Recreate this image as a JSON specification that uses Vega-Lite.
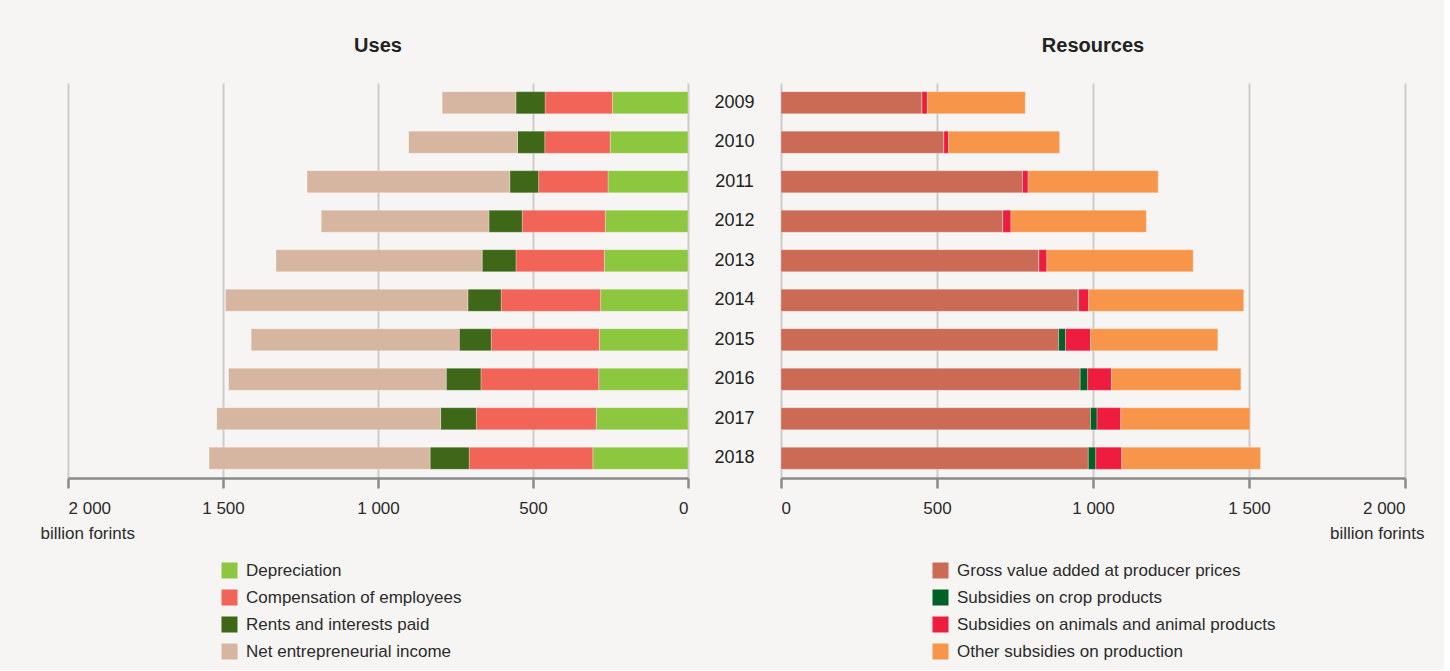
{
  "$schema": "https://vega.github.io/schema/vega-lite/v6.json",
  "background": "#f6f5f3",
  "padding": {"left": 40, "top": 36, "right": 20, "bottom": 10},
  "bounds": "flush",
  "spacing": 93,
  "config": {
    "view": {"stroke": null},
    "font": "Liberation Sans, Arial, sans-serif",
    "axis": {
      "domainColor": "#8a8a8a", "domainWidth": 2.5,
      "tickColor": "#8a8a8a", "tickWidth": 2.5, "tickSize": 10,
      "gridColor": "#cccccc", "gridWidth": 2,
      "labelColor": "#2b2b2b", "labelFontSize": 17, "labelPadding": 12,
      "titleColor": "#2b2b2b", "titleFontSize": 17, "titleFontWeight": "normal"
    },
    "title": {"fontSize": 20, "fontWeight": "bold", "color": "#222222", "offset": 27},
    "legend": {"labelFontSize": 17, "labelColor": "#2b2b2b", "labelLimit": 0, "symbolType": "square", "symbolSize": 256, "symbolStrokeWidth": 0, "rowPadding": 9, "padding": 0, "labelOffset": 8}
  },
  "datasets": {
    "uses": [
      {"year": "2009", "item": "Depreciation", "k": 1, "value": 244},
      {"year": "2009", "item": "Compensation of employees", "k": 2, "value": 217},
      {"year": "2009", "item": "Rents and interests paid", "k": 3, "value": 94},
      {"year": "2009", "item": "Net entrepreneurial income", "k": 4, "value": 238},
      {"year": "2010", "item": "Depreciation", "k": 1, "value": 251},
      {"year": "2010", "item": "Compensation of employees", "k": 2, "value": 211},
      {"year": "2010", "item": "Rents and interests paid", "k": 3, "value": 88},
      {"year": "2010", "item": "Net entrepreneurial income", "k": 4, "value": 351},
      {"year": "2011", "item": "Depreciation", "k": 1, "value": 258},
      {"year": "2011", "item": "Compensation of employees", "k": 2, "value": 224},
      {"year": "2011", "item": "Rents and interests paid", "k": 3, "value": 93},
      {"year": "2011", "item": "Net entrepreneurial income", "k": 4, "value": 654},
      {"year": "2012", "item": "Depreciation", "k": 1, "value": 267},
      {"year": "2012", "item": "Compensation of employees", "k": 2, "value": 268},
      {"year": "2012", "item": "Rents and interests paid", "k": 3, "value": 107},
      {"year": "2012", "item": "Net entrepreneurial income", "k": 4, "value": 541},
      {"year": "2013", "item": "Depreciation", "k": 1, "value": 270},
      {"year": "2013", "item": "Compensation of employees", "k": 2, "value": 285},
      {"year": "2013", "item": "Rents and interests paid", "k": 3, "value": 109},
      {"year": "2013", "item": "Net entrepreneurial income", "k": 4, "value": 665},
      {"year": "2014", "item": "Depreciation", "k": 1, "value": 282},
      {"year": "2014", "item": "Compensation of employees", "k": 2, "value": 321},
      {"year": "2014", "item": "Rents and interests paid", "k": 3, "value": 107},
      {"year": "2014", "item": "Net entrepreneurial income", "k": 4, "value": 782},
      {"year": "2015", "item": "Depreciation", "k": 1, "value": 286},
      {"year": "2015", "item": "Compensation of employees", "k": 2, "value": 349},
      {"year": "2015", "item": "Rents and interests paid", "k": 3, "value": 103},
      {"year": "2015", "item": "Net entrepreneurial income", "k": 4, "value": 671},
      {"year": "2016", "item": "Depreciation", "k": 1, "value": 288},
      {"year": "2016", "item": "Compensation of employees", "k": 2, "value": 380},
      {"year": "2016", "item": "Rents and interests paid", "k": 3, "value": 112},
      {"year": "2016", "item": "Net entrepreneurial income", "k": 4, "value": 702},
      {"year": "2017", "item": "Depreciation", "k": 1, "value": 296},
      {"year": "2017", "item": "Compensation of employees", "k": 2, "value": 387},
      {"year": "2017", "item": "Rents and interests paid", "k": 3, "value": 115},
      {"year": "2017", "item": "Net entrepreneurial income", "k": 4, "value": 722},
      {"year": "2018", "item": "Depreciation", "k": 1, "value": 307},
      {"year": "2018", "item": "Compensation of employees", "k": 2, "value": 399},
      {"year": "2018", "item": "Rents and interests paid", "k": 3, "value": 126},
      {"year": "2018", "item": "Net entrepreneurial income", "k": 4, "value": 713}
    ],
    "res": [
      {"year": "2009", "item": "Gross value added at producer prices", "k": 1, "value": 452},
      {"year": "2009", "item": "Subsidies on crop products", "k": 2, "value": 0},
      {"year": "2009", "item": "Subsidies on animals and animal products", "k": 3, "value": 17},
      {"year": "2009", "item": "Other subsidies on production", "k": 4, "value": 314},
      {"year": "2010", "item": "Gross value added at producer prices", "k": 1, "value": 522},
      {"year": "2010", "item": "Subsidies on crop products", "k": 2, "value": 0},
      {"year": "2010", "item": "Subsidies on animals and animal products", "k": 3, "value": 15},
      {"year": "2010", "item": "Other subsidies on production", "k": 4, "value": 356},
      {"year": "2011", "item": "Gross value added at producer prices", "k": 1, "value": 774},
      {"year": "2011", "item": "Subsidies on crop products", "k": 2, "value": 0},
      {"year": "2011", "item": "Subsidies on animals and animal products", "k": 3, "value": 18},
      {"year": "2011", "item": "Other subsidies on production", "k": 4, "value": 417},
      {"year": "2012", "item": "Gross value added at producer prices", "k": 1, "value": 710},
      {"year": "2012", "item": "Subsidies on crop products", "k": 2, "value": 1},
      {"year": "2012", "item": "Subsidies on animals and animal products", "k": 3, "value": 26},
      {"year": "2012", "item": "Other subsidies on production", "k": 4, "value": 434},
      {"year": "2013", "item": "Gross value added at producer prices", "k": 1, "value": 826},
      {"year": "2013", "item": "Subsidies on crop products", "k": 2, "value": 1},
      {"year": "2013", "item": "Subsidies on animals and animal products", "k": 3, "value": 25},
      {"year": "2013", "item": "Other subsidies on production", "k": 4, "value": 469},
      {"year": "2014", "item": "Gross value added at producer prices", "k": 1, "value": 951},
      {"year": "2014", "item": "Subsidies on crop products", "k": 2, "value": 3},
      {"year": "2014", "item": "Subsidies on animals and animal products", "k": 3, "value": 32},
      {"year": "2014", "item": "Other subsidies on production", "k": 4, "value": 497},
      {"year": "2015", "item": "Gross value added at producer prices", "k": 1, "value": 890},
      {"year": "2015", "item": "Subsidies on crop products", "k": 2, "value": 22},
      {"year": "2015", "item": "Subsidies on animals and animal products", "k": 3, "value": 80},
      {"year": "2015", "item": "Other subsidies on production", "k": 4, "value": 408},
      {"year": "2016", "item": "Gross value added at producer prices", "k": 1, "value": 959},
      {"year": "2016", "item": "Subsidies on crop products", "k": 2, "value": 24},
      {"year": "2016", "item": "Subsidies on animals and animal products", "k": 3, "value": 76},
      {"year": "2016", "item": "Other subsidies on production", "k": 4, "value": 415},
      {"year": "2017", "item": "Gross value added at producer prices", "k": 1, "value": 992},
      {"year": "2017", "item": "Subsidies on crop products", "k": 2, "value": 21},
      {"year": "2017", "item": "Subsidies on animals and animal products", "k": 3, "value": 76},
      {"year": "2017", "item": "Other subsidies on production", "k": 4, "value": 414},
      {"year": "2018", "item": "Gross value added at producer prices", "k": 1, "value": 985},
      {"year": "2018", "item": "Subsidies on crop products", "k": 2, "value": 24},
      {"year": "2018", "item": "Subsidies on animals and animal products", "k": 3, "value": 83},
      {"year": "2018", "item": "Other subsidies on production", "k": 4, "value": 445}
    ]
  },
  "resolve": {"scale": {"color": "independent", "y": "independent", "x": "independent"}, "legend": {"color": "independent"}},
  "hconcat": [
    {
      "title": "Uses",
      "width": 620,
      "height": 395,
      "data": {"name": "uses"},
      "mark": {"type": "bar", "stroke": "#ffffff", "strokeWidth": 0.8, "strokeOpacity": 0.35},
      "encoding": {
        "y": {"field": "year", "type": "ordinal", "axis": null, "scale": {"paddingInner": 0.44, "paddingOuter": 0.22}},
        "x": {
          "field": "value", "type": "quantitative", "stack": "zero",
          "scale": {"domain": [0, 2000], "reverse": true, "nice": false},
          "axis": {
            "values": [0, 500, 1000, 1500, 2000],
            "labelExpr": "replace(format(datum.value, ','), ',', ' ')",
            "title": "billion forints", "titleX": -28, "titleY": 60, "titleAlign": "left", "titleBaseline": "alphabetic", "titleAnchor": null
          }
        },
        "order": {"field": "k", "type": "quantitative", "sort": "ascending"},
        "color": {
          "field": "item", "type": "nominal",
          "sort": ["Depreciation", "Compensation of employees", "Rents and interests paid", "Net entrepreneurial income"],
          "scale": {
            "domain": ["Depreciation", "Compensation of employees", "Rents and interests paid", "Net entrepreneurial income"],
            "range": ["#8dc63f", "#f26457", "#3f6718", "#d6b6a0"]
          },
          "legend": {"title": null, "orient": "none", "legendX": 153, "legendY": 479}
        }
      }
    },
    {
      "title": "Resources",
      "width": 624,
      "height": 395,
      "data": {"name": "res"},
      "mark": {"type": "bar", "stroke": "#ffffff", "strokeWidth": 0.8, "strokeOpacity": 0.35},
      "encoding": {
        "y": {
          "field": "year", "type": "ordinal", "scale": {"paddingInner": 0.44, "paddingOuter": 0.22},
          "axis": {"title": null, "domain": false, "ticks": false, "tickSize": 0, "grid": false, "labelAlign": "center", "labelPadding": 47, "labelFontSize": 18, "labelColor": "#222222"}
        },
        "x": {
          "field": "value", "type": "quantitative", "stack": "zero",
          "scale": {"domain": [0, 2000], "nice": false},
          "axis": {
            "values": [0, 500, 1000, 1500, 2000],
            "labelExpr": "replace(format(datum.value, ','), ',', ' ')",
            "title": "billion forints", "titleX": 643, "titleY": 60, "titleAlign": "right", "titleBaseline": "alphabetic", "titleAnchor": null
          }
        },
        "order": {"field": "k", "type": "quantitative", "sort": "ascending"},
        "color": {
          "field": "item", "type": "nominal",
          "sort": ["Gross value added at producer prices", "Subsidies on crop products", "Subsidies on animals and animal products", "Other subsidies on production"],
          "scale": {
            "domain": ["Gross value added at producer prices", "Subsidies on crop products", "Subsidies on animals and animal products", "Other subsidies on production"],
            "range": ["#cb6a55", "#006028", "#ee1c3e", "#f7964a"]
          },
          "legend": {"title": null, "orient": "none", "legendX": 151, "legendY": 479}
        }
      }
    }
  ]
}
